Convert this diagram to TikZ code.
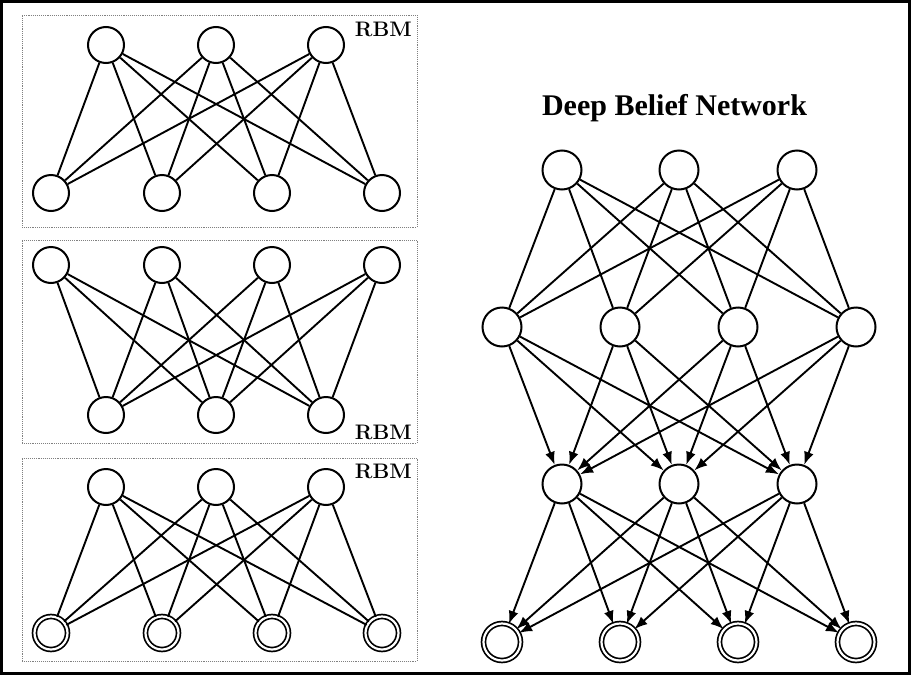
\documentclass[tikz,border=0pt]{standalone}
\usepackage{fontspec}
\newfontfamily\titlefont{Liberation Serif}
\usetikzlibrary{arrows.meta,positioning}
\tikzset{
  neurona/.style  = {draw, circle, line width=2pt, minimum size=36pt,
                     inner sep=0pt, fill=white},
  neuronad/.style = {neurona, double, double distance=2.2pt, line width=1.7pt,
                     minimum size=33pt},
  grande/.style   = {neurona, minimum size=39pt},
  granded/.style  = {neuronad, minimum size=37pt},
  caja/.style     = {draw=gray, densely dotted, line width=0.9pt,
                     minimum width=395pt, minimum height=212pt, inner sep=0pt},
  rbm/.style      = {font=\fontsize{21}{24}\selectfont\bfseries, inner sep=0pt},
  titulo/.style   = {font=\titlefont\fontsize{30}{36}\selectfont\bfseries, inner sep=0pt},
  arista/.style   = {line width=1.9pt},
  flecha/.style   = {-{Latex[length=13pt,width=10pt]}, line width=1.9pt},
}
\begin{document}
\begin{tikzpicture}[x=1pt, y=-1pt]
  \useasboundingbox (0,0) rectangle (911,675);
  \node[draw, line width=3pt, minimum width=908pt, minimum height=672pt, inner sep=0pt] (marco) at (455.5,337.5) {};

  % RBM superior
  \node[caja, minimum height=212pt] (cajaA) at (219.5,121) {};
  \node[rbm, anchor=base east] (rbmA) at (412,36) {RBM};
  \foreach \i/\x in {1/106,2/216,3/326} \node[neurona] (sA\i) at (\x,45) {};
  \foreach \j/\x in {1/51,2/162,3/272,4/382} \node[neurona] (iA\j) at (\x,193) {};
  \foreach \i in {1,2,3} \foreach \j in {1,...,4} \draw[arista] (sA\i) -- (iA\j);

  % RBM central
  \node[caja, minimum height=203pt] (cajaB) at (219.5,341.5) {};
  \node[rbm, anchor=base east] (rbmB) at (412,439) {RBM};
  \foreach \i/\x in {1/51,2/162,3/272,4/382} \node[neurona] (sB\i) at (\x,265) {};
  \foreach \j/\x in {1/106,2/216,3/326} \node[neurona] (iB\j) at (\x,415) {};
  \foreach \i in {1,...,4} \foreach \j in {1,2,3} \draw[arista] (sB\i) -- (iB\j);

  % RBM inferior
  \node[caja, minimum height=203pt] (cajaC) at (219.5,559.5) {};
  \node[rbm, anchor=base east] (rbmC) at (412,478) {RBM};
  \foreach \i/\x in {1/106,2/216,3/326} \node[neurona] (sC\i) at (\x,487) {};
  \foreach \j/\x in {1/51,2/162,3/272,4/382} \node[neuronad] (iC\j) at (\x,633) {};
  \foreach \i in {1,2,3} \foreach \j in {1,...,4} \draw[arista] (sC\i) -- (iC\j);

  % DBN
  \node[titulo, anchor=base] (dbn) at (674.5,115) {Deep Belief Network};
  \foreach \i/\x in {1/562,2/679,3/797} {
    \node[grande] (d1\i) at (\x,170) {};
    \node[grande] (d3\i) at (\x,484) {};
  }
  \foreach \j/\x in {1/502,2/620,3/738,4/856} {
    \node[grande] (d2\j) at (\x,327) {};
    \node[granded] (d4\j) at (\x,642) {};
  }
  \foreach \i in {1,2,3} \foreach \j in {1,...,4} {
    \draw[arista] (d1\i) -- (d2\j);
    \draw[flecha] (d2\j) -- (d3\i);
    \draw[flecha] (d3\i) -- (d4\j);
  }
\end{tikzpicture}
\end{document}
